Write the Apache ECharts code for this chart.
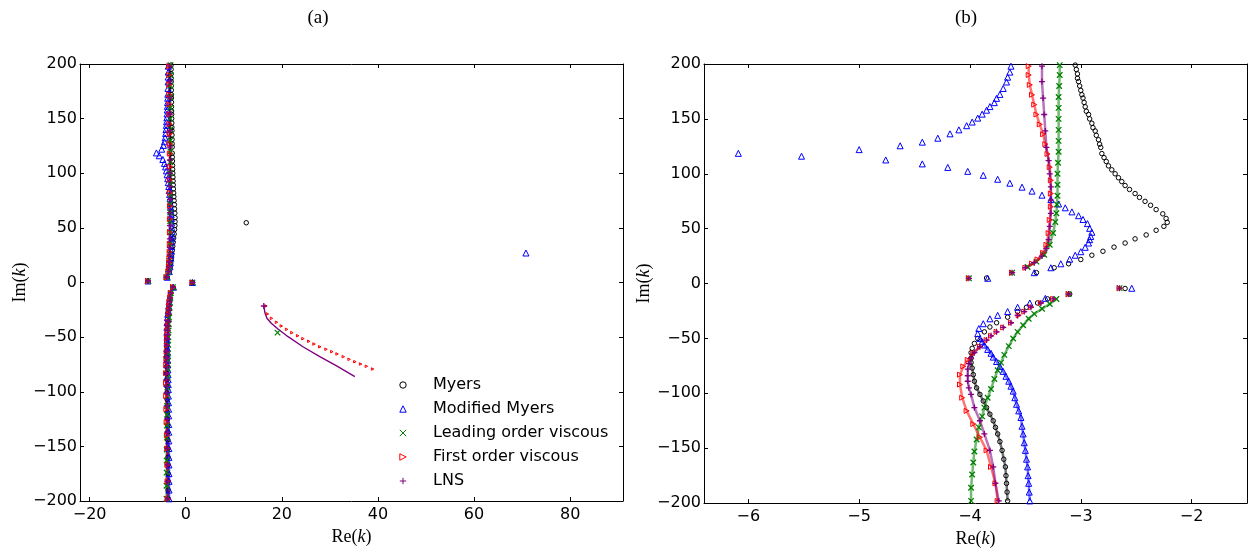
<!DOCTYPE html>
<html><head><meta charset="utf-8">
<script src="https://cdn.jsdelivr.net/npm/echarts@6/dist/echarts.min.js"></script>
<style>html,body{margin:0;padding:0;background:#fff}#c{width:1249px;height:553px}</style>
</head><body><div id="c"></div><script>
// ---------------- data ----------------
const panelTitles = ['(a)', '(b)'];
const seriesNames = ['Myers', 'Modified Myers', 'Leading order viscous', 'First order viscous', 'LNS'];
const yTicks = { min: -200, max: 200, step: 50 };
const xRangeA = [-22, 91];
const xRangeB = [-6.4, -1.5];

// Myers
const myersIsolated = [[-7.85,1.4],[1.4,0],[-3.85,5],[-2.6,-4.5],[-3.1,-9.6],[12.6,54.7]];
const myersUpper = [[-3.05,199],[-3.04,195],[-3.03,191],[-3.03,187],[-3.02,184],[-3.01,180],[-3.00,176],[-2.99,172],[-2.98,169],[-2.97,165],[-2.96,161],[-2.95,157],[-2.93,154],[-2.92,150],[-2.90,146],[-2.89,142],[-2.87,139],[-2.86,135],[-2.84,131],[-2.83,127],[-2.82,124],[-2.81,118.4],[-2.79,114.7],[-2.77,111.2],[-2.75,107.2],[-2.72,103.6],[-2.69,100],[-2.66,96.4],[-2.63,92.9],[-2.60,89.3],[-2.56,85.7],[-2.51,82],[-2.47,78.5],[-2.42,74.9],[-2.37,71.3],[-2.32,67.4],[-2.26,63.5],[-2.23,59.3],[-2.22,55.7]];
const myersReturn = [[-2.25,52.1],[-2.32,48.5],[-2.41,44.3],[-2.51,40.7],[-2.60,36.9],[-2.70,33.2],[-2.80,29.4],[-2.90,25.8],[-3.00,21.9],[-3.11,18.0],[-3.24,14.4],[-3.40,9.9]];
const myersLowerSparse = [[-3.30,-14],[-3.39,-17.7],[-3.49,-21.6],[-3.57,-25.5],[-3.66,-30.6],[-3.76,-35.7],[-3.82,-39.6],[-3.87,-44],[-3.93,-50],[-3.96,-54.5],[-3.98,-59]];
const myersLowerDense = [[-3.99,-63],[-3.99,-68],[-3.99,-72],[-3.98,-77],[-3.97,-83],[-3.96,-89],[-3.94,-95],[-3.91,-101],[-3.88,-107],[-3.85,-113],[-3.82,-119],[-3.79,-125],[-3.77,-131],[-3.75,-137],[-3.73,-144],[-3.71,-152],[-3.695,-160],[-3.68,-167],[-3.675,-175],[-3.67,-182],[-3.665,-190],[-3.66,-198]];

// Modified Myers
const modIsolated = [[-7.85,1.4],[1.4,0],[-3.84,4.8],[-2.54,-4.3],[70.8,27]];
const modUpperLoop = [[-3.63,198],[-3.64,192.6],[-3.66,188],[-3.67,183.6],[-3.70,177.7],[-3.73,172.3],[-3.76,168.7],[-3.78,164.8],[-3.82,161.2],[-3.85,157.9],[-3.89,154.3],[-3.93,150.7],[-3.98,147.1],[-4.03,143.8],[-4.10,140],[-4.18,136.4],[-4.29,132.4],[-4.43,128.8],[-4.63,125.5],[-5.0,122],[-6.09,118.6],[-5.52,116],[-4.76,112.6],[-4.43,109],[-4.20,105.8],[-4.02,102.2],[-3.88,98.6],[-3.75,95],[-3.64,91.4],[-3.53,87.8],[-3.44,84.2],[-3.35,80.5],[-3.27,76.5],[-3.20,72.5],[-3.14,69],[-3.08,65.3],[-3.02,61.8],[-2.98,58.4],[-2.94,54.6],[-2.92,50.3],[-2.90,46.7],[-2.91,42.9],[-2.92,40],[-2.93,36.9],[-2.96,33],[-3.00,29],[-3.05,25.8],[-3.10,22.2],[-3.18,18],[-3.27,14.4],[-3.42,9.9]];
const modLowerSparse = [[-3.32,-13.5],[-3.46,-17.7],[-3.57,-21.6],[-3.66,-25.5],[-3.75,-29],[-3.82,-32.1],[-3.88,-36.6],[-3.92,-41],[-3.93,-45.6]];
const modLowerDense = [[-3.91,-50],[-3.89,-53],[-3.87,-56],[-3.84,-60],[-3.81,-63.5],[-3.79,-67],[-3.76,-71],[-3.73,-75.5],[-3.70,-80],[-3.675,-84.5],[-3.65,-89],[-3.63,-93.5],[-3.61,-98],[-3.595,-104],[-3.58,-110],[-3.56,-116],[-3.54,-122],[-3.53,-130],[-3.52,-137],[-3.51,-145],[-3.50,-152],[-3.49,-160],[-3.48,-167],[-3.475,-175],[-3.47,-182],[-3.465,-190],[-3.46,-198]];

// Leading order viscous
const leadIsolated = [[-7.85,1.4],[1.4,0],[-3.62,9.9],[-4.01,4.8],[-2.65,-4.2],[-3.11,-9.6],[19.1,-45.9]];
const leadUpper = [[-3.19,199],[-3.19,190],[-3.195,180],[-3.20,170],[-3.20,160],[-3.20,150],[-3.20,140],[-3.20,130],[-3.20,120],[-3.205,110],[-3.21,100],[-3.21,90],[-3.21,80],[-3.215,72],[-3.22,64],[-3.23,56],[-3.25,46],[-3.28,35.3],[-3.33,26.3],[-3.40,20],[-3.48,15]];
const leadLower = [[-3.22,-14],[-3.28,-18.6],[-3.35,-23],[-3.42,-27.6],[-3.47,-32],[-3.52,-38],[-3.57,-44],[-3.61,-50],[-3.65,-57],[-3.69,-65],[-3.72,-72],[-3.75,-79],[-3.78,-87],[-3.81,-96],[-3.84,-104],[-3.87,-113],[-3.89,-121],[-3.92,-131],[-3.94,-142],[-3.96,-153],[-3.97,-163],[-3.98,-174],[-3.99,-186],[-3.99,-198]];

// First order viscous
const firstIsolated = [[-7.85,1.4],[1.4,0],[-3.62,9.9],[-4.01,4.8],[-2.65,-4.2],[-3.11,-9.6]];
const firstUpper = [[-3.47,198],[-3.47,190],[-3.46,181],[-3.44,172],[-3.42,163],[-3.40,154],[-3.37,145],[-3.34,136],[-3.32,127],[-3.30,118],[-3.28,106],[-3.27,94],[-3.27,82],[-3.27,70],[-3.28,58],[-3.29,46],[-3.31,35.3],[-3.34,28],[-3.39,22],[-3.44,18.2],[-3.50,14.4]];
const firstFar = [[16.7,-21.5],[17.0,-28.8],[17.85,-32.8],[18.9,-36.4],[19.9,-39.8],[21.0,-42.9],[22.1,-45.9],[23.3,-48.7],[24.4,-51.4],[25.6,-53.8],[26.7,-56.3],[27.9,-58.8],[29.2,-61.1],[30.4,-63.3],[31.5,-65.4],[32.8,-67.9],[34.0,-70.3],[35.2,-72.5],[36.4,-74.6],[37.6,-76.7],[38.9,-79.2]];
const firstLowerSparse = [[-3.25,-14],[-3.36,-17.7],[-3.45,-21.6],[-3.51,-25.5],[-3.56,-29],[-3.63,-35.7],[-3.70,-40],[-3.76,-44],[-3.81,-47.6],[-3.85,-51.5]];
const firstLowerDense = [[-3.91,-57.5],[-3.97,-63.5],[-4.02,-69.5],[-4.06,-75.5],[-4.09,-83],[-4.09,-92],[-4.07,-104],[-4.03,-116],[-3.97,-128],[-3.91,-140],[-3.85,-152],[-3.81,-167],[-3.77,-182],[-3.75,-198]];

// LNS
const lnsIsolated = [[-7.85,1.4],[1.4,0],[-3.62,9.9],[-4.01,4.8],[-2.65,-4.2],[-3.11,-9.6],[16.25,-21.5]];
const lnsUpper = [[-3.35,198],[-3.35,184],[-3.34,169],[-3.33,154],[-3.32,139],[-3.31,124],[-3.29,112],[-3.28,100],[-3.27,88],[-3.27,76],[-3.27,64],[-3.28,52],[-3.29,40],[-3.31,32],[-3.35,25],[-3.42,19],[-3.50,14.4]];
const lnsFar = [[16.25,-21.5],[16.5,-28],[16.9,-32.8],[17.8,-37.3],[19.2,-42.6],[21.3,-49.6],[24.4,-58.8],[27.9,-67.9],[31.4,-76.4],[35.2,-86.2]];
const lnsLowerSparse = [[-3.25,-14],[-3.36,-17.7],[-3.45,-21.6],[-3.51,-25.5],[-3.57,-29],[-3.63,-35.7],[-3.70,-40],[-3.76,-44],[-3.81,-47.6],[-3.85,-51.5]];
const lnsLowerDense = [[-3.91,-57.5],[-3.96,-63],[-3.99,-68],[-4.01,-73],[-4.02,-78],[-4.02,-84],[-4.02,-89],[-4.01,-95],[-3.99,-101],[-3.96,-113],[-3.91,-125],[-3.87,-137],[-3.82,-152],[-3.79,-167],[-3.77,-182],[-3.74,-198]];

// ---------------- styling / assembly ----------------
const models = [
  { name: seriesNames[0], color: '#000000', symbol: 'circle', size: 4.5, bw: 1,
    branches: [[myersIsolated,'pts'],[myersUpper,'pts'],[myersReturn,'pts'],[myersLowerSparse,'pts'],[myersLowerDense,'dense']] },
  { name: seriesNames[1], color: '#0000ff', symbol: 'triangle', size: 6, bw: 1,
    branches: [[modIsolated,'pts'],[modUpperLoop,'pts'],[modLowerSparse,'pts'],[modLowerDense,'dense']] },
  { name: seriesNames[2], color: '#008000', symbol: 'path://M0,0L10,10M10,0L0,10', size: 5.5, bw: 1.3,
    branches: [[leadIsolated,'pts'],[leadUpper,'dense'],[leadLower,'dense']] },
  { name: seriesNames[3], color: '#ff0000', symbol: 'path://M0,0L10,5L0,10Z', size: 5, bw: 1,
    branches: [[firstIsolated,'pts'],[firstUpper,'dense'],[firstFar,'small'],[firstLowerSparse,'pts'],[firstLowerDense,'dense']] },
  { name: seriesNames[4], color: '#800080', symbol: 'path://M5,0L5,10M0,5L10,5', size: 6, bw: 1.3,
    branches: [[lnsIsolated,'pts'],[lnsUpper,'dense'],[lnsFar,'line'],[lnsLowerSparse,'pts'],[lnsLowerDense,'dense']] }
];

const series = [];
[[0,0],[2,2]].forEach(([xi, yi]) => {
  models.forEach(m => {
    m.branches.forEach(([data, kind]) => {
      const isLine = kind === 'line';
      const hasLine = kind === 'dense' || isLine;
      series.push({
        type: 'line', name: m.name, xAxisIndex: xi, yAxisIndex: yi, data: data,
        silent: true, animation: false, clip: true,
        symbol: m.symbol, symbolSize: kind === 'small' ? 2.5 : m.size,
        showSymbol: !isLine,
        itemStyle: { color: 'rgba(0,0,0,0)', borderColor: m.color, borderWidth: m.bw },
        lineStyle: hasLine ? { color: m.color, width: isLine ? 1.4 : 2.5, opacity: isLine ? 1 : 0.55 } : { width: 0, opacity: 0, color: m.color },
        emphasis: { disabled: true }
      });
    });
  });
});

const fmt = v => String(v).replace('-', '\u2212');
const tickFont = { fontFamily: 'DejaVu Sans', fontSize: 16, color: '#000' };
const nameRich = {
  r: { fontFamily: 'Liberation Serif', fontSize: 18, color: '#000' },
  i: { fontFamily: 'Liberation Serif', fontSize: 18, fontStyle: 'italic', color: '#000' }
};
function xAxis(grid, range, pos, nameGap) {
  const main = pos === 'bottom';
  return {
    type: 'value', gridIndex: grid, position: pos, min: range[0], max: range[1], splitNumber: 5,
    axisLine: { show: true, onZero: false, lineStyle: { color: '#000', width: 1 } },
    axisTick: { show: true, inside: true, length: 4, lineStyle: { color: '#000' } },
    axisLabel: { show: main, ...tickFont, margin: 6, formatter: fmt, showMinLabel: false, showMaxLabel: false },
    splitLine: { show: false },
    name: main ? '{r|Re(}{i|k}{r|)}' : '', nameLocation: 'middle', nameGap: nameGap,
    nameTextStyle: { rich: nameRich }
  };
}
function yAxis(grid, pos, nameGap) {
  const main = pos === 'left';
  return {
    type: 'value', gridIndex: grid, position: pos, min: yTicks.min, max: yTicks.max, interval: yTicks.step,
    axisLine: { show: true, onZero: false, lineStyle: { color: '#000', width: 1 } },
    axisTick: { show: true, inside: true, length: 4, lineStyle: { color: '#000' } },
    axisLabel: { show: main, ...tickFont, margin: 3, formatter: fmt },
    splitLine: { show: false },
    name: main ? '{r|Im(}{i|k}{r|)}' : '', nameLocation: 'middle', nameGap: nameGap, nameRotate: 90,
    nameTextStyle: { rich: nameRich }
  };
}

const option = {
  backgroundColor: '#fff',
  animation: false,
  title: [
    { text: panelTitles[0], left: 318, top: 9, textAlign: 'center', padding: 0,
      textStyle: { fontFamily: 'Liberation Serif', fontSize: 19, fontWeight: 'normal', color: '#000' } },
    { text: panelTitles[1], left: 966, top: 9, textAlign: 'center', padding: 0,
      textStyle: { fontFamily: 'Liberation Serif', fontSize: 19, fontWeight: 'normal', color: '#000' } }
  ],
  grid: [
    { left: 80, top: 64, width: 543, height: 437 },
    { left: 704, top: 64, width: 543, height: 445 }
  ],
  xAxis: [ xAxis(0, xRangeA, 'bottom', 22), xAxis(0, xRangeA, 'top', 0), xAxis(1, xRangeB, 'bottom', 15), xAxis(1, xRangeB, 'top', 0) ],
  yAxis: [ yAxis(0, 'left', 50), yAxis(0, 'right', 0), yAxis(1, 'left', 49), yAxis(1, 'right', 0) ],
  legend: {
    orient: 'vertical', left: 373, top: 372, itemWidth: 50, itemHeight: 8, itemGap: 8,
    selectedMode: false, data: seriesNames,
    itemStyle: { borderWidth: 1 },
    textStyle: { fontFamily: 'DejaVu Sans', fontSize: 16, color: '#000' }
  },
  series: series
};
const chart = echarts.init(document.getElementById('c'), null, { renderer: 'canvas' });
chart.setOption(option);
</script></body></html>
